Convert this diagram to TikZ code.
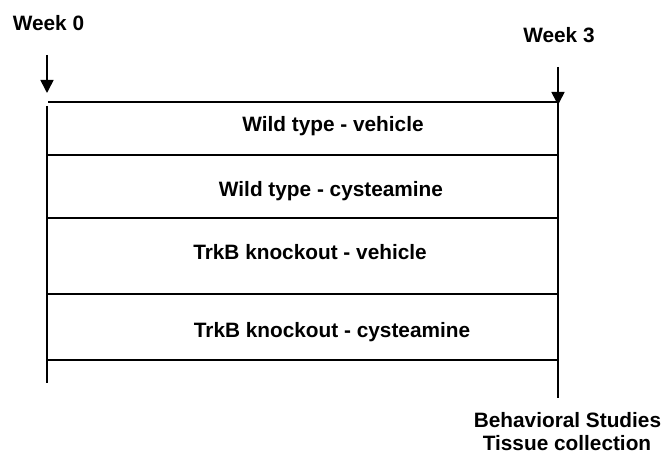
\documentclass[tikz,border=0pt]{standalone}
\usepackage{fontspec}
\setmainfont{Liberation Sans}
\usetikzlibrary{arrows.meta}
\begin{document}
\begin{tikzpicture}[x=1bp,y=-1bp,
  rule/.style={line width=1.6bp,black},
  marker/.style={line width=1.6bp,-{Triangle[width=13bp,length=13bp]}},
  lbl/.style={anchor=base,inner sep=0pt,font=\fontsize{20.8bp}{24bp}\selectfont\bfseries}]
\useasboundingbox (0,0) rectangle (663,455);
% coordinates
\coordinate (tl) at (48,102);
\coordinate (tr) at (558,102);
\coordinate (lt) at (47,106);
\coordinate (lb) at (47,383);
\coordinate (rt) at (558,103);
\coordinate (rb) at (558,398);
\coordinate (h1l) at (47,155); \coordinate (h1r) at (558,155);
\coordinate (h2l) at (47,218); \coordinate (h2r) at (558,218);
\coordinate (h3l) at (47,294); \coordinate (h3r) at (558,294);
\coordinate (h4l) at (47,360); \coordinate (h4r) at (558,360);
\coordinate (a0s) at (47,55); \coordinate (a0e) at (47,93);
\coordinate (a3s) at (558,67); \coordinate (a3e) at (558,105);
% lines
\draw[rule] (tl) -- (tr);
\draw[rule] (lt) -- (lb);
\draw[rule] (rt) -- (rb);
\draw[rule] (h1l) -- (h1r);
\draw[rule] (h2l) -- (h2r);
\draw[rule] (h3l) -- (h3r);
\draw[rule] (h4l) -- (h4r);
\draw[marker] (a0s) -- (a0e);
\draw[marker] (a3s) -- (a3e);
% labels
\node[lbl] (w0) at (48.5,31) {Week 0};
\node[lbl] (w3) at (559,43) {Week 3};
\node[lbl] (g1) at (333,132) {Wild type - vehicle};
\node[lbl] (g2) at (331,197) {Wild type - cysteamine};
\node[lbl] (g3) at (310,260) {TrkB knockout - vehicle};
\node[lbl] (g4) at (332,337) {TrkB knockout - cysteamine};
\node[lbl] (b1) at (567.5,427) {Behavioral Studies};
\node[lbl] (b2) at (567,450) {Tissue collection};
\end{tikzpicture}
\end{document}
